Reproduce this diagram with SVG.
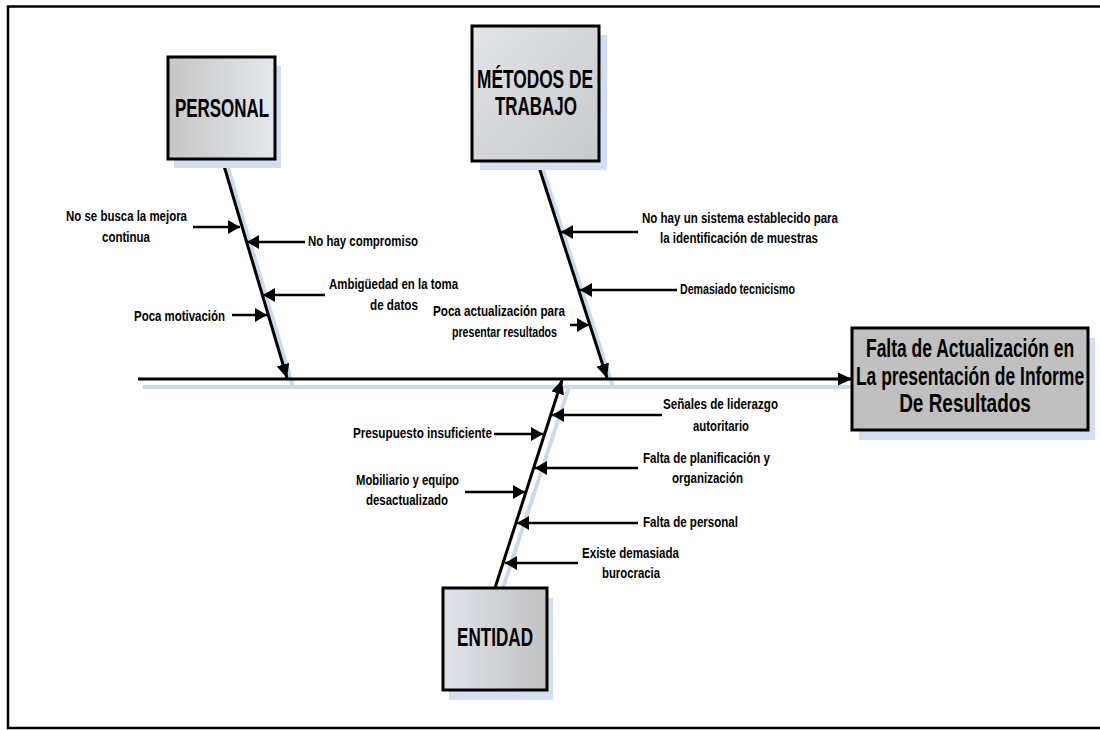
<svg xmlns="http://www.w3.org/2000/svg" width="1100" height="730" viewBox="0 0 1100 730">
<defs>
<style>
.frame{fill:#fff;stroke:#000;stroke-width:2.5}
.box{stroke:#000;stroke-width:3}
.sh{fill:#d3dff0}
.shl{stroke:#cbd9ee;stroke-width:4;fill:none}
.t{font-family:"Liberation Sans",Arial,sans-serif;font-weight:bold;fill:#000}
.big{font-size:25px}
.lbl{font-size:15px}
.mid{text-anchor:middle}
.bone{stroke:#000;stroke-width:3;fill:none}
.arr{stroke:#000;stroke-width:2.5;fill:none;marker-end:url(#ah)}
</style>
<marker id="ah" markerUnits="userSpaceOnUse" markerWidth="13" markerHeight="15" refX="12" refY="7" orient="auto" viewBox="0 0 13 15">
<path d="M0,0 L12,7 L0,14 z" fill="#000"/>
</marker>
<marker id="bh" markerUnits="userSpaceOnUse" markerWidth="15" markerHeight="14" refX="14" refY="6.5" orient="auto" viewBox="0 0 15 14">
<path d="M0,0 L14,6.5 L0,13 z" fill="#000"/>
</marker>
<linearGradient id="gP" x1="0" y1="0" x2="1" y2="0">
<stop offset="0" stop-color="#c6c6c6"/><stop offset="1" stop-color="#e4e7ec"/>
</linearGradient>
<linearGradient id="gM" x1="0" y1="0" x2="1" y2="1">
<stop offset="0" stop-color="#e2e4e8"/><stop offset="1" stop-color="#c8c9cc"/>
</linearGradient>
<linearGradient id="gE" x1="0" y1="0" x2="1" y2="0">
<stop offset="0" stop-color="#dfe3ea"/><stop offset="1" stop-color="#c2c2c2"/>
</linearGradient>
</defs>

<rect class="frame" x="8" y="6.5" width="1100" height="721.5"/>

<g id="shadows">
<line class="shl" x1="143" y1="387" x2="852" y2="387"/>
<line class="shl" x1="228" y1="168" x2="293" y2="387"/>
<line class="shl" x1="543" y1="170" x2="613" y2="387"/>
<line class="shl" x1="503" y1="588" x2="569" y2="387"/>
</g>

<g id="connectors">
<line class="bone" x1="138" y1="379" x2="852" y2="379" marker-end="url(#bh)"/>
<line class="bone" x1="222" y1="159" x2="287" y2="378" marker-end="url(#bh)"/>
<line class="bone" x1="537" y1="161" x2="607" y2="378" marker-end="url(#bh)"/>
<line class="bone" x1="495" y1="588" x2="562" y2="380" marker-end="url(#bh)"/>
<line class="arr" x1="193" y1="227" x2="240" y2="227"/>
<line class="arr" x1="305" y1="242" x2="247" y2="242"/>
<line class="arr" x1="325" y1="295" x2="263" y2="295"/>
<line class="arr" x1="232" y1="315" x2="267" y2="315"/>
<line class="arr" x1="638" y1="232" x2="561" y2="232"/>
<line class="arr" x1="677" y1="290" x2="580" y2="290"/>
<line class="arr" x1="570" y1="325" x2="589" y2="325"/>
<line class="arr" x1="662" y1="415" x2="552" y2="415"/>
<line class="arr" x1="494" y1="434" x2="543" y2="434"/>
<line class="arr" x1="638" y1="468" x2="535" y2="468"/>
<line class="arr" x1="465" y1="492" x2="525" y2="492"/>
<line class="arr" x1="638" y1="523" x2="517" y2="523"/>
<line class="arr" x1="578" y1="563" x2="505" y2="563"/>
</g>

<g id="effect">
<rect class="sh" x="859" y="338" width="236" height="102"/>
<rect class="box" x="852" y="328" width="236" height="102" fill="#c0c0c0"/>
<text class="t big mid" transform="translate(970,357) scale(0.72,1)" x="0" y="0" textLength="289" lengthAdjust="spacingAndGlyphs">Falta de Actualización en</text>
<text class="t big mid" transform="translate(970,385) scale(0.72,1)" x="0" y="0" textLength="317" lengthAdjust="spacingAndGlyphs">La presentación de Informe</text>
<text class="t big mid" transform="translate(965,412) scale(0.72,1)" x="0" y="0" textLength="183" lengthAdjust="spacingAndGlyphs">De Resultados</text>
</g>

<g id="personal">
<rect class="sh" x="174" y="66" width="107" height="102"/>
<rect class="box" x="168" y="57" width="107" height="102" fill="url(#gP)"/>
<text class="t big" x="175" y="117" textLength="94" lengthAdjust="spacingAndGlyphs">PERSONAL</text>
</g>

<g id="metodos">
<rect class="sh" x="480" y="35" width="127" height="135"/>
<rect class="box" x="472" y="26" width="127" height="135" fill="url(#gM)"/>
<text class="t big" x="477" y="88" textLength="116" lengthAdjust="spacingAndGlyphs">MÉTODOS DE</text>
<text class="t big" x="495" y="115" textLength="82" lengthAdjust="spacingAndGlyphs">TRABAJO</text>
</g>

<g id="entidad">
<rect class="sh" x="449" y="598" width="104" height="102"/>
<rect class="box" x="443" y="588" width="104" height="102" fill="url(#gE)"/>
<text class="t big" x="457" y="646" textLength="76" lengthAdjust="spacingAndGlyphs">ENTIDAD</text>
</g>

<g id="c-mejora"><text class="t lbl" x="66" y="221" textLength="121" lengthAdjust="spacingAndGlyphs">No se busca la mejora</text><text class="t lbl" x="102" y="242" textLength="48" lengthAdjust="spacingAndGlyphs">continua</text></g>
<g id="c-compromiso"><text class="t lbl" x="308" y="246" textLength="110" lengthAdjust="spacingAndGlyphs">No hay compromiso</text></g>
<g id="c-ambiguedad"><text class="t lbl" x="329" y="289" textLength="129" lengthAdjust="spacingAndGlyphs">Ambigüedad en la toma</text><text class="t lbl" x="370" y="310" textLength="48" lengthAdjust="spacingAndGlyphs">de datos</text></g>
<g id="c-motivacion"><text class="t lbl" x="134" y="321" textLength="91" lengthAdjust="spacingAndGlyphs">Poca motivación</text></g>
<g id="c-sistema"><text class="t lbl" x="642" y="223" textLength="196" lengthAdjust="spacingAndGlyphs">No hay un sistema establecido para</text><text class="t lbl" x="660" y="243" textLength="158" lengthAdjust="spacingAndGlyphs">la identificación de muestras</text></g>
<g id="c-tecnicismo"><text class="t lbl" x="680" y="294" textLength="115" lengthAdjust="spacingAndGlyphs">Demasiado tecnicismo</text></g>
<g id="c-actualizacion"><text class="t lbl" x="433" y="316" textLength="132" lengthAdjust="spacingAndGlyphs">Poca actualización para</text><text class="t lbl" x="452" y="337" textLength="105" lengthAdjust="spacingAndGlyphs">presentar resultados</text></g>
<g id="c-liderazgo"><text class="t lbl" x="663" y="409" textLength="115" lengthAdjust="spacingAndGlyphs">Señales de liderazgo</text><text class="t lbl" x="693" y="431" textLength="56" lengthAdjust="spacingAndGlyphs">autoritario</text></g>
<g id="c-presupuesto"><text class="t lbl" x="353" y="438" textLength="139" lengthAdjust="spacingAndGlyphs">Presupuesto insuficiente</text></g>
<g id="c-planificacion"><text class="t lbl" x="643" y="463" textLength="127" lengthAdjust="spacingAndGlyphs">Falta de planificación y</text><text class="t lbl" x="672" y="483" textLength="71" lengthAdjust="spacingAndGlyphs">organización</text></g>
<g id="c-mobiliario"><text class="t lbl" x="356" y="485" textLength="103" lengthAdjust="spacingAndGlyphs">Mobiliario y equipo</text><text class="t lbl" x="366" y="505" textLength="82" lengthAdjust="spacingAndGlyphs">desactualizado</text></g>
<g id="c-personal"><text class="t lbl" x="643" y="527" textLength="95" lengthAdjust="spacingAndGlyphs">Falta de personal</text></g>
<g id="c-burocracia"><text class="t lbl" x="582" y="558" textLength="97" lengthAdjust="spacingAndGlyphs">Existe demasiada</text><text class="t lbl" x="602" y="578" textLength="58" lengthAdjust="spacingAndGlyphs">burocracia</text></g>
</svg>
